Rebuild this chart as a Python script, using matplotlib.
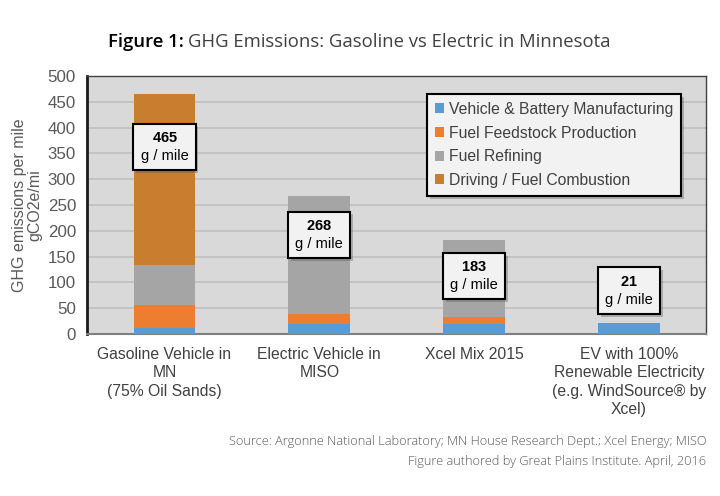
import matplotlib
matplotlib.use('Agg')
import matplotlib.pyplot as plt
import matplotlib.patheffects as pe
import numpy as np

# Chart values (g CO2e / mile)
categories = ['Gasoline Vehicle in\nMN\n(75% Oil Sands)',
              'Electric Vehicle in\nMISO',
              'Xcel Mix 2015',
              'EV with 100%\nRenewable Electricity\n(e.g. WindSource\u00ae by\nXcel)']
manufacturing = [12, 20, 20, 21]
feedstock = [44, 19, 13, 0]
refining = [78, 229, 150, 0]
combustion = [331, 0, 0, 0]
totals = [465, 268, 183, 21]
label_y = [362, 192, 112, 84]

series_names = ['Vehicle & Battery Manufacturing', 'Fuel Feedstock Production',
                'Fuel Refining', 'Driving / Fuel Combustion']
colors = ['#5b9bd5', '#ed7d31', '#a5a5a5', '#c97d2e']

plt.rcParams['font.family'] = ['Liberation Sans', 'DejaVu Sans']
plt.rcParams['mathtext.fontset'] = 'custom'
plt.rcParams['mathtext.bf'] = 'Liberation Sans:bold'
plt.rcParams['mathtext.rm'] = 'Liberation Sans'

fig = plt.figure(figsize=(7.2, 4.96), dpi=100)
ax = fig.add_axes([0.121, 0.3266, 0.86, 0.5202])
ax.set_facecolor('#d9d9d9')

x = np.arange(len(categories))
shadow = [pe.SimplePatchShadow(offset=(2, -2), shadow_rgbFace='#555555', alpha=0.35), pe.Normal()]
bottom = np.zeros(len(categories))
for vals, name, col in zip([manufacturing, feedstock, refining, combustion], series_names, colors):
    ax.bar(x, vals, width=0.4, bottom=bottom, color=col, label=name, zorder=3)
    bottom += np.array(vals)

ax.set_xlim(-0.5, 3.5)
ax.set_ylim(0, 500)
ax.set_yticks(range(0, 501, 50))
ax.yaxis.grid(True, color='#bfbfbf', linewidth=1.2, zorder=0)
ax.set_axisbelow(True)
ax.tick_params(axis='y', length=0, labelsize=12.2, labelcolor='#595959', pad=8)
ax.tick_params(axis='x', length=0, labelsize=11.3, labelcolor='#404040', pad=9)
ax.set_xticks(x)
ax.set_xticklabels(categories, linespacing=1.3)
for s in ['top', 'right']:
    ax.spines[s].set_color('#404040')
    ax.spines[s].set_linewidth(1.0)
ax.spines['left'].set_color('#1a1a1a')
ax.spines['left'].set_linewidth(2)
ax.spines['bottom'].set_color('#7f7f7f')
ax.spines['bottom'].set_linewidth(1.5)

ax.set_ylabel('GHG emissions per mile\ngCO2e/mi', fontsize=11.5, color='#595959', labelpad=4,
              linespacing=1.0)

# total boxes
for xi, tot, yy in zip(x, totals, label_y):
    t = ax.text(xi, yy, f'$\\mathbf{{{tot}}}$\ng / mile', ha='center', va='center', fontsize=10.5,
                color='black', zorder=5, linespacing=1.35,
                bbox=dict(boxstyle='square,pad=0.5', facecolor='#f2f2f2', edgecolor='black',
                          linewidth=1.5))
    t.get_bbox_patch().set_path_effects(shadow)

leg = ax.legend(loc='upper right', bbox_to_anchor=(0.972, 0.96), fontsize=11.3, frameon=True,
                fancybox=False, edgecolor='black', facecolor='#f2f2f2', framealpha=1,
                handlelength=0.6, handleheight=0.6, handletextpad=0.3, labelspacing=0.55,
                borderpad=0.5, labelcolor='#404040')
leg.get_frame().set_linewidth(1.5)
leg.get_frame().set_path_effects(shadow)

# title in two parts
t1 = fig.text(108 / 720, 1 - 42 / 496, 'Figure 1:', fontsize=13.3, fontfamily='Open Sans',
              fontweight='semibold', color='black', va='center', ha='left')
fig.canvas.draw()
bb = t1.get_window_extent()
fig.text((bb.x1 + 4) / 720, 1 - 42 / 496, 'GHG Emissions: Gasoline vs Electric in Minnesota',
         fontsize=13.3, fontfamily='Open Sans', color='#404040', va='center', ha='left')

fig.text(0.981, 1 - 442 / 496, 'Source: Argonne National Laboratory; MN House Research Dept.; Xcel Energy; MISO',
         fontsize=9.2, fontfamily='Open Sans', fontweight='light', color='#595959', ha='right', va='center')
fig.text(0.981, 1 - 462 / 496, 'Figure authored by Great Plains Institute. April, 2016',
         fontsize=9.2, fontfamily='Open Sans', fontweight='light', color='#595959', ha='right', va='center')

fig.savefig('out.png', dpi=100)
